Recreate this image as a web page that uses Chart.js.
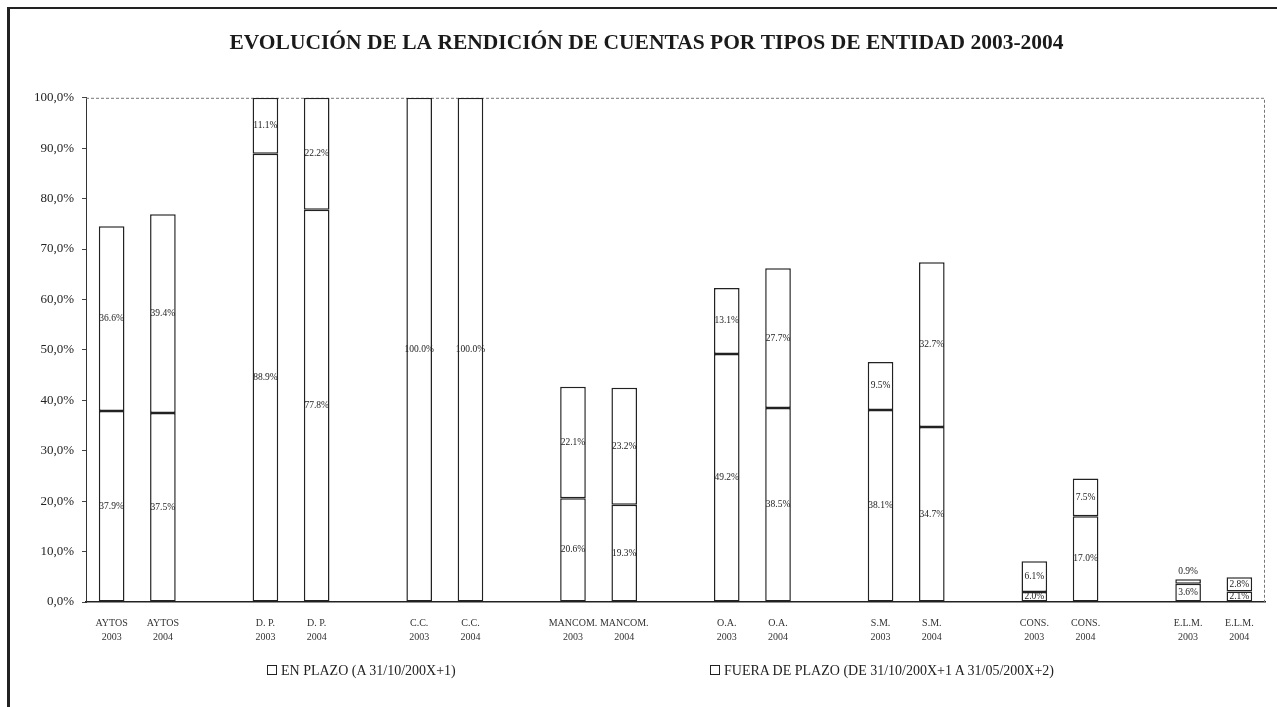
<!DOCTYPE html>
<html lang="es">
<head>
<meta charset="utf-8">
<title>Evolución de la rendición de cuentas 2003-2004</title>
<script src="https://cdn.jsdelivr.net/npm/chart.js@4.4.0/dist/chart.umd.min.js"></script>
<style>
  html, body { margin: 0; padding: 0; background: #fff; }
  #wrap { position: relative; width: 1277px; height: 707px; overflow: hidden; }
  #frame { position: absolute; left: 7px; top: 7px; right: -5px; bottom: -5px;
           border-top: 2px solid #222; border-left: 3px solid #222; pointer-events: none; }
  .leg { position: absolute; top: 663px; font: 14px "Liberation Serif", "Times New Roman", serif;
         color: #222; white-space: nowrap; line-height: 16px; }
  .leg i { display: inline-block; width: 8px; height: 8px; border: 1px solid #222;
           margin-right: 4px; vertical-align: 0; }
</style>
</head>
<body>
<div id="wrap">
  <canvas id="chart" width="1277" height="707"></canvas>
  <div id="frame"></div>
  <div class="leg" style="left:267px"><i></i>EN PLAZO (A 31/10/200X+1)</div>
  <div class="leg" style="left:710px"><i></i>FUERA DE PLAZO (DE 31/10/200X+1 A 31/05/200X+2)</div>
</div>
<script>
// categorías (las vacías separan cada par de años)
const CATEGORIAS = [
  ["AYTOS", "2003"], ["AYTOS", "2004"], "",
  ["D. P.", "2003"], ["D. P.", "2004"], "",
  ["C.C.", "2003"], ["C.C.", "2004"], "",
  ["MANCOM.", "2003"], ["MANCOM.", "2004"], "",
  ["O.A.", "2003"], ["O.A.", "2004"], "",
  ["S.M.", "2003"], ["S.M.", "2004"], "",
  ["CONS.", "2003"], ["CONS.", "2004"], "",
  ["E.L.M.", "2003"], ["E.L.M.", "2004"],
];
const EN_PLAZO = [37.9, 37.5, null, 88.9, 77.8, null, 100.0, 100.0, null, 20.6, 19.3, null,
                  49.2, 38.5, null, 38.1, 34.7, null, 2.0, 17.0, null, 3.6, 2.1];
const FUERA_PLAZO = [36.6, 39.4, null, 11.1, 22.2, null, 0, 0, null, 22.1, 23.2, null,
                     13.1, 27.7, null, 9.5, 32.7, null, 6.1, 7.5, null, 0.9, 2.8];
const TITULO = "EVOLUCIÓN DE LA RENDICIÓN DE CUENTAS POR TIPOS DE ENTIDAD 2003-2004";

const SERIF = '"Liberation Serif", "Times New Roman", serif';

// etiquetas de valor en el centro de cada tramo (encima si el tramo es muy bajo)
const valueLabels = {
  id: "valueLabels",
  afterDatasetsDraw(chart) {
    const ctx = chart.ctx;
    ctx.save();
    ctx.font = `9.5px ${SERIF}`;
    ctx.fillStyle = "#222";
    ctx.textAlign = "center";
    ctx.textBaseline = "middle";
    chart.data.datasets.forEach((ds, di) => {
      chart.getDatasetMeta(di).data.forEach((el, i) => {
        const v = ds.data[i];
        if (!v) return;
        const h = Math.abs(el.base - el.y);
        const y = h < 8 ? el.y - 8 : (el.y + el.base) / 2;
        ctx.fillText(v.toFixed(1) + "%", el.x, y);
      });
    });
    ctx.restore();
  },
};

// borde punteado superior y derecho del área de trazado
const plotFrame = {
  id: "plotFrame",
  beforeDatasetsDraw(chart) {
    const { ctx, chartArea: a } = chart;
    ctx.save();
    ctx.strokeStyle = "#777";
    ctx.lineWidth = 1;
    ctx.setLineDash([3, 2]);
    ctx.beginPath();
    ctx.moveTo(a.left, a.top + 0.5);
    ctx.lineTo(a.right - 0.5, a.top + 0.5);
    ctx.lineTo(a.right - 0.5, a.bottom);
    ctx.stroke();
    ctx.restore();
  },
};

const barStyle = {
  backgroundColor: "#fff",
  borderColor: "#222",
  borderWidth: 1.5,
  borderSkipped: false,
  barPercentage: 0.5,
  categoryPercentage: 1.0,
};

new Chart(document.getElementById("chart"), {
  type: "bar",
  data: {
    labels: CATEGORIAS,
    datasets: [
      { label: "EN PLAZO (A 31/10/200X+1)", data: EN_PLAZO, ...barStyle },
      { label: "FUERA DE PLAZO (DE 31/10/200X+1 A 31/05/200X+2)", data: FUERA_PLAZO, ...barStyle },
    ],
  },
  options: {
    responsive: false,
    animation: false,
    layout: { padding: { left: 28, right: 12, top: 31, bottom: 65 } },
    plugins: {
      legend: { display: false },
      tooltip: { enabled: false },
      title: {
        display: true,
        text: TITULO,
        color: "#1a1a1a",
        font: { family: SERIF, size: 21.5, weight: "bold", lineHeight: 1.2 },
        padding: { top: 0, bottom: 41 },
      },
    },
    scales: {
      x: {
        stacked: true,
        grid: { display: false },
        border: { display: true, color: "#222", width: 1.5 },
        ticks: {
          autoSkip: false, maxRotation: 0, padding: 6,
          color: "#333",
          font: { family: SERIF, size: 10, lineHeight: 1.4 },
        },
        afterFit: (s) => { s.height = 40; },
      },
      y: {
        stacked: true,
        min: 0, max: 100,
        grid: { drawOnChartArea: false, drawTicks: true, tickLength: 4, color: "#444" },
        border: { display: true, color: "#333", width: 1 },
        ticks: {
          stepSize: 10, padding: 8,
          color: "#222",
          font: { family: SERIF, size: 13 },
          callback: (v) => v.toFixed(1).replace(".", ",") + "%",
        },
        afterFit: (s) => { s.width = 58; },
      },
    },
  },
  plugins: [valueLabels, plotFrame],
});
</script>
</body>
</html>
